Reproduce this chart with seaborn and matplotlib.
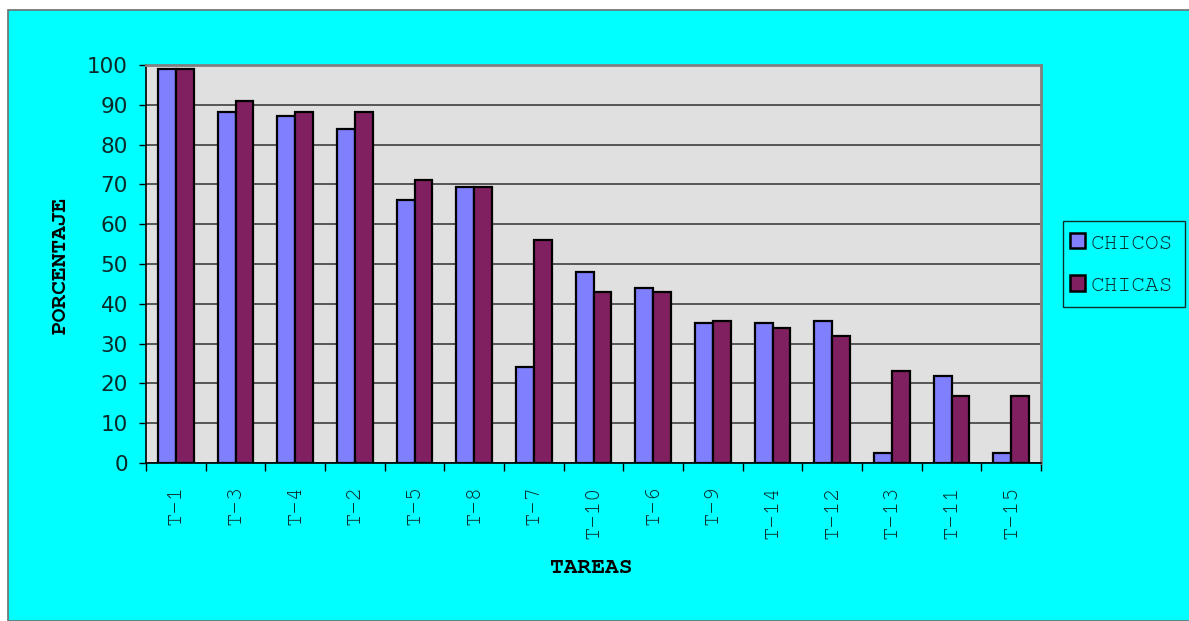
import matplotlib
matplotlib.use("Agg")
import matplotlib.pyplot as plt
from matplotlib.patches import Rectangle
from matplotlib.ticker import FixedLocator
import numpy as np
import pandas as pd
import seaborn as sns

# Task labels, sorted by overall success
tareas = ["T-1", "T-3", "T-4", "T-2", "T-5", "T-8", "T-7", "T-10",
          "T-6", "T-9", "T-14", "T-12", "T-13", "T-11", "T-15"]
chicos = [99, 88.2, 87.2, 84, 66, 69.3, 24, 48, 44, 35.2, 35.2, 35.8, 2.4, 21.9, 2.4]
chicas = [99, 91, 88.2, 88.2, 71, 69.3, 56, 43, 43, 35.8, 34, 32, 23, 16.8, 16.8]
grupos = ["CHICOS", "CHICAS"]
y_ticks = list(range(0, 101, 10))

colores = {"CHICOS": "#8080FF", "CHICAS": "#802060"}
cian = "#00FFFF"
fondo_area = "#E0E0E0"

df = pd.DataFrame({
    "tarea": tareas * 2,
    "pct": chicos + chicas,
    "grupo": [grupos[0]] * len(tareas) + [grupos[1]] * len(tareas),
})

sns.set_theme(style="white")
mono = ["Courier New", "Nimbus Mono PS", "FreeMono", "Liberation Mono"]

W, H = 1189, 621
fig = plt.figure(figsize=(W / 100, H / 100), dpi=100, facecolor="white")

# cyan chart frame
fig.patches.append(Rectangle((8 / W, 0), 1.0, 1 - 10 / H, transform=fig.transFigure,
                             facecolor=cian, edgecolor="#707070", linewidth=1.2,
                             zorder=-5))

ax = fig.add_axes([146 / W, (H - 463) / H, (1041 - 146) / W, (463 - 65) / H])
ax.set_zorder(2)
ax.set_facecolor(fondo_area)

sns.barplot(data=df, x="tarea", y="pct", hue="grupo", hue_order=grupos,
            palette=colores, width=0.6, gap=0, dodge=True,
            edgecolor="black", linewidth=1.6, saturation=1, ax=ax, zorder=3)

ax.set_xlim(-0.5, len(tareas) - 0.5)
ax.set_ylim(0, 100)
ax.yaxis.set_major_locator(FixedLocator(y_ticks))
ax.yaxis.grid(True, color="#303030", linewidth=1.1, zorder=1)
ax.set_axisbelow(True)

for side in ["top", "right"]:
    ax.spines[side].set_visible(True)
    ax.spines[side].set_color("#808080")
    ax.spines[side].set_linewidth(2)
for side in ["left", "bottom"]:
    ax.spines[side].set_visible(True)
    ax.spines[side].set_color("black")
    ax.spines[side].set_linewidth(1.2)

ax.set_xlabel("")
ax.set_ylabel("")

# y axis ticks and labels
ax.tick_params(axis="y", which="major", direction="out", length=5, width=1,
               color="black", pad=8, left=True, labelsize=15.5, labelcolor="#0a2a2a")
for lab in ax.get_yticklabels():
    lab.set_fontfamily("DejaVu Sans")

# x axis: category labels without ticks, boundary ticks between groups
ax.set_xticks(np.arange(len(tareas)))
ax.set_xticklabels(tareas, rotation=90, fontfamily=mono, fontsize=16,
                   color="#0a2a2a", va="top", ha="center")
ax.tick_params(axis="x", which="major", length=0, pad=16)
ax.xaxis.set_minor_locator(FixedLocator(np.arange(-0.5, len(tareas), 1.0)))
ax.tick_params(axis="x", which="minor", direction="out", length=6, width=1,
               color="black", bottom=True)

# axis titles
fig.text(61 / W, 1 - 265 / H, "PORCENTAJE", rotation=90, ha="center", va="center",
         fontfamily=mono, fontweight="bold", fontsize=16.5, color="black")
fig.text(591 / W, 1 - 568 / H, "TAREAS", ha="center", va="center",
         fontfamily=mono, fontweight="bold", fontsize=16.5, color="black")

# legend box, then the legend entries inside it
fig.patches.append(Rectangle((1063 / W, 1 - 307 / H), (1185 - 1063) / W, 86 / H,
                             transform=fig.transFigure, facecolor=cian,
                             edgecolor="#103030", linewidth=1, zorder=1))
handles, labels = ax.get_legend_handles_labels()
leg = ax.legend(handles, labels, loc="center left",
                bbox_to_anchor=(1063 / W, 1 - 264 / H), bbox_transform=fig.transFigure,
                frameon=False, borderaxespad=0,
                prop={"family": mono, "size": 16.5},
                handlelength=0.65, handleheight=0.65, handletextpad=0.25,
                borderpad=0.3, labelspacing=1.0)
for t in leg.get_texts():
    t.set_color("#0a2a2a")
for p in leg.get_patches():
    p.set_edgecolor("black")
    p.set_linewidth(1.8)

fig.savefig("out.png", dpi=100, facecolor=fig.get_facecolor())
